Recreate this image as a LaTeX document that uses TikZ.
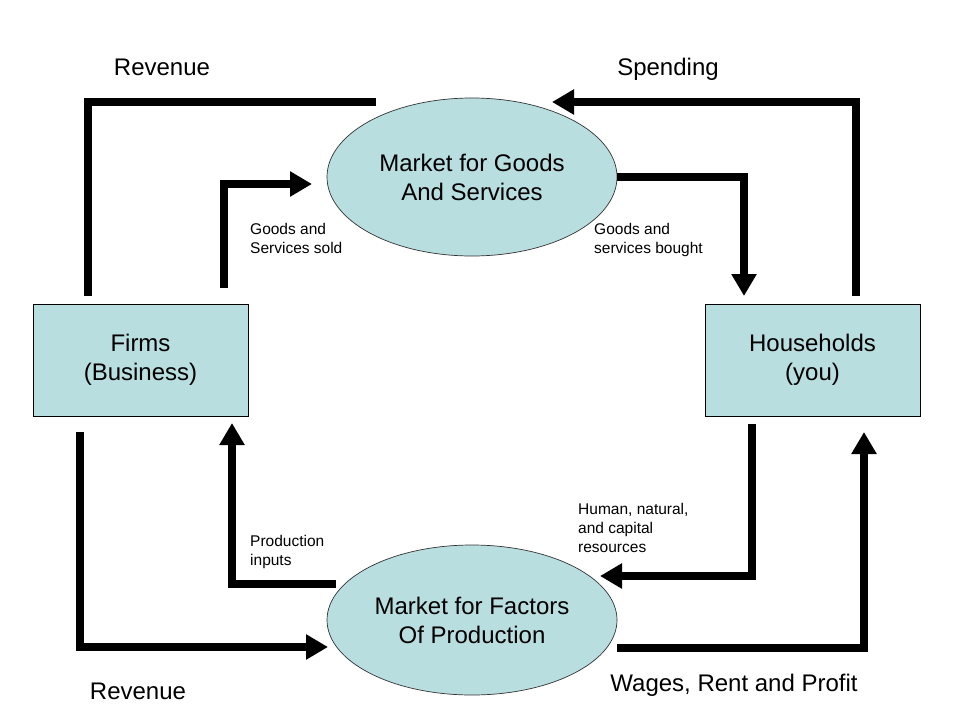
\documentclass[tikz,border=0pt]{standalone}
\usepackage{fontspec}
\setmainfont{Liberation Sans}
\usetikzlibrary{shapes.geometric,arrows.meta}
\definecolor{boxfill}{RGB}{184,222,224}
\begin{document}
\begin{tikzpicture}[x=1pt,y=-1pt,
  bigtext/.style={font=\fontsize{24}{29}\selectfont, align=center},
  labeltext/.style={bigtext, text height=17pt, text depth=5pt},
  smalltext/.style={font=\fontsize{15.5}{19}\selectfont, align=left, anchor=north west, inner sep=0pt},
  market/.style={ellipse, draw=black!80, fill=boxfill, line width=0.7pt, minimum width=290pt, minimum height=158pt, inner sep=0pt, bigtext},
  agent/.style={rectangle, draw=black, fill=boxfill, line width=0.8pt, minimum width=215pt, minimum height=112pt, inner sep=0pt, bigtext},
  flow/.style={line width=8pt, line join=miter, line cap=butt},
  flowarrow/.style={flow, -{Triangle[width=24pt,length=22pt]}}
]
\useasboundingbox (0,0) rectangle (960,720);
\fill[white] (0,0) rectangle (960,720);

% nodes
\node[market] (goods) at (472,177) {Market for Goods\\And Services};
\node[market, minimum height=150pt] (factors) at (472,620) {Market for Factors\\Of Production};
\node[agent] (firms) at (140.5,360) {Firms\\(Business)};
\node[agent] (house) at (812.5,360) {Households\\(you)};

% free-end coordinates
\coordinate (revA) at (88,296);
\coordinate (revB) at (376,102);
\coordinate (gsA) at (224,288);
\coordinate (gsB) at (312,184);
\coordinate (spA) at (856,296);
\coordinate (spB) at (552,102);
\coordinate (gbB) at (744,296);
\coordinate (rv2A) at (80,432);
\coordinate (rv2B) at (328,647);
\coordinate (piA) at (336,584);
\coordinate (piB) at (232,423);
\coordinate (hnA) at (752,424);
\coordinate (hnB) at (600,576);
\coordinate (wgB) at (864,432);

% connectors
\draw[flow] (revA) |- (revB);
\draw[flowarrow] (gsA) |- (gsB);
\draw[flowarrow] (spA) |- (spB);
\draw[flowarrow] (goods.east) -| (gbB);
\draw[flowarrow] (rv2A) |- (rv2B);
\draw[flowarrow] (piA) -| (piB);
\draw[flowarrow] (hnA) |- (hnB);
\draw[flowarrow] (factors.east |- 0,648) -| (wgB);

% labels
\node[labeltext] (lrev1) at (162,69) {Revenue};
\node[labeltext] (lspend) at (668,69) {Spending};
\node[labeltext] (lrev2) at (138,693) {Revenue};
\node[labeltext] (lwage) at (734,685) {Wages, Rent and Profit};
\node[smalltext] (lgs) at (250,223) {Goods and\\Services sold};
\node[smalltext] (lgb) at (594,223) {Goods and\\services bought};
\node[smalltext] (lpi) at (250,535) {Production\\inputs};
\node[smalltext] (lhn) at (578,503) {Human, natural,\\and capital\\resources};
\end{tikzpicture}
\end{document}
